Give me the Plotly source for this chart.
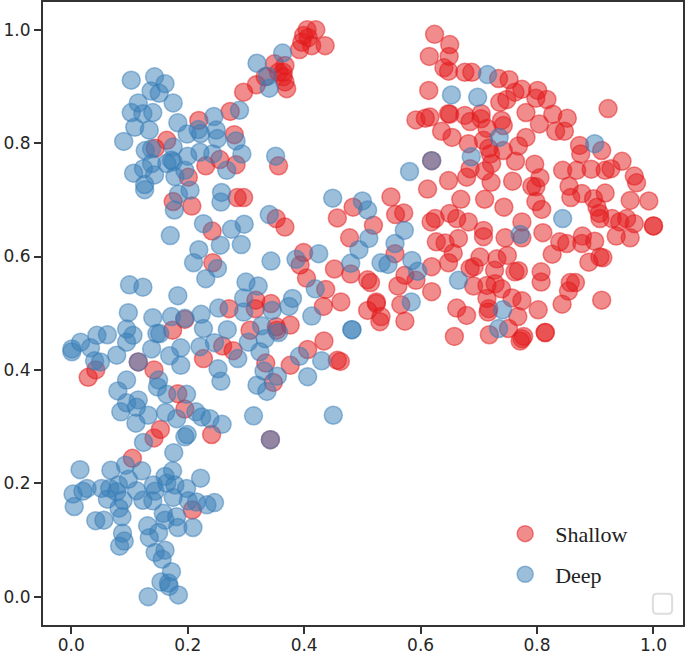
import plotly.graph_objects as go

# values, axes run 0..1 on both sides
shallow_x = [.405, .420, .399, .407, .413, .392, .436, .396, .349, .367, .356, .364, .364, .367, .370, .318, .333, .296, .273,
             .219, .280, .164, .144, .231, .255, .283, .201, .175, .207, .285, .296, .356, .352, .367, .242, .243,
             .457, .484, .478, .452, .399, .393, .404, .437, .463, .433, .271, .317, .343, .316, .480,
             .549, .557, .571, .519, .556, .625, .650, .682, .627, .642, .665, .656, .648, .619,
             .509, .514, .524, .524, .509, .532, .561, .573, .592, .566, .573, .619, .662, .679, .658,
             .376, .434, .406, .376, .457, .462, .352, .334, .347,
             .624, .650, .615, .649, .640, .648, .676, .688, .734, .752, .774, .762, .801, .798, .817, .748, .736, .614,
             .592, .608, .616, .648, .650, .676, .704, .704, .739, .742, .685, .714, .781, .827, .852, .804, .832, .847, .922,
             .636, .654, .682, .781, .768, .708, .742, .720, .717, .722, .763, .796, .685, .679, .710, .721, .648, .758, .805, .791, .798, .798, .808, .612, .710, .743, .669,
             .873, .875, .911, .844, .868, .893, .917, .927, .946, .967, .971, .855, .858, .877, .897, .917, .960, .992, .903, .907, .908, .929, .942, .954, .967, 1.0, 1.0, .936, .960,
             .618, .662, .708, .708, .745, .774, .774, .810, .839, .851, .877, .878, .899, .826, .889, .908, .913,
             .702, .731, .749, .692, .685, .727, .762, .768, .807, .807, .857, .866, .854, .843, .911,
             .691, .714, .728, .739, .714, .757, .774, .717, .716, .802,
             .767, .814, .814, .718, .751, .771, .777, .774, .530,
             .174, .307, .353, .227, .260, .278, .029, .042, .115, .142, .183, .195, .105, .241, .142, .153, .208, .342, .619, .195]
shallow_y = [1.0, 1.0, .990, .986, .972, .965, .972, .978, .940, .937, .925, .925, .917, .908, .896, .903, .917, .890, .856,
             .840, .815, .805, .791, .760, .771, .762, .740, .697, .689, .704, .704, .760, .667, .652, .645, .589,
             .668, .687, .633, .578, .607, .585, .562, .542, .520, .512, .508, .523, .517, .508, .569,
             .705, .674, .677, .655, .605, .667, .676, .661, .626, .624, .632, .606, .589, .582,
             .559, .554, .520, .517, .505, .494, .548, .567, .558, .515, .486, .538, .509, .496, .459,
             .479, .451, .436, .408, .417, .415, .476, .412, .378,
             .992, .974, .953, .953, .933, .927, .925, .925, .914, .912, .895, .890, .893, .879, .877, .877, .872, .893,
             .841, .844, .846, .852, .851, .849, .852, .843, .840, .831, .838, .826, .854, .851, .844, .834, .821, .821, .861,
             .821, .810, .799, .810, .795, .805, .787, .781, .791, .764, .768, .763, .755, .740, .751, .731, .734, .733, .739, .724, .723, .697, .683, .719, .701, .687, .701,
             .796, .781, .787, .752, .752, .754, .752, .755, .768, .742, .730, .724, .704, .711, .702, .712, .699, .698, .687, .676, .667, .667, .661, .667, .658, .654, .654, .636, .633,
             .661, .667, .646, .635, .633, .661, .633, .642, .626, .623, .623, .636, .627, .604, .590, .599, .598,
             .599, .596, .602, .582, .579, .576, .573, .575, .573, .555, .554, .554, .539, .516, .523,
             .548, .549, .552, .543, .526, .527, .522, .508, .502, .506,
             .494, .466, .466, .462, .473, .451, .459, .455, .485,
             .470, .470, .470, .420, .442, .434, .387, .400, .414, .400, .358, .331, .244, .286, .280, .295, .153, .277, .769, .489]

deep_x = [.103, .143, .161, .137, .151, .175, .115, .103, .123, .140, .109, .134, .090, .183, .199, .218, .245, .222, .249, .251, .289, .283, .293,
          .127, .138, .175, .221, .243, .200, .172, .175, .164, .138, .124, .107, .143, .195, .178, .267, .126, .126, .204, .184, .177, .258, .257,
          .319, .363, .340, .337, .351,
          .449, .170, .227, .275, .297, .256, .292, .219, .210, .251, .231, .340, .343, .386, .425, .100, .123, .183, .098, .140, .172, .195, .223, .253,
          .300, .321, .296, .296, .380, .374, .345, .419, .413,
          .500, .509, .556, .511, .494, .480, .532, .544, .572, .585, .595, .581, .665, .356, .482, .482, .333, .324, .392, .430, .406, .331, .354, .319, .336, .584, .327,
          .619, .715, .653, .698, .735, .687, .899, .844, .771, .741, .734,
          .001, .001, .016, .033, .044, .062, .078, .040, .050, .095, .106, .095, .152, .147, .138, .227, .268, .169, .188, .188, .221, .246, .286, .304, .252, .257, .115, .342,
          .095, .080, .150, .148, .164, .198, .095, .115, .112, .085, .132, .111, .162, .181, .214, .224, .238, .259, .199, .195, .124, .176, .313, .450,
          .015, .068, .093, .121, .174, .161, .222, .098, .003, .020, .027, .005, .052, .066, .081, .078, .112, .062, .089, .141, .144, .123, .140, .164, .178, .198, .175, .201, .215, .233, .246,
          .082, .087, .042, .056, .158, .161, .181, .183, .209, .131, .150, .134, .088, .091, .083, .161, .144, .156, .172, .154, .167, .168, .184, .132]
deep_y = [.911, .917, .905, .892, .888, .871, .871, .854, .852, .854, .828, .823, .803, .836, .816, .824, .847, .817, .823, .808, .858, .804, .781,
          .787, .790, .793, .784, .781, .777, .770, .767, .764, .764, .755, .747, .744, .752, .741, .752, .727, .718, .717, .710, .682, .713, .696,
          .941, .959, .897, .918, .777,
          .703, .637, .658, .648, .657, .620, .621, .612, .589, .579, .561, .674, .592, .595, .605, .550, .546, .531, .501, .492, .494, .491, .498, .509,
          .555, .548, .527, .502, .526, .512, .505, .543, .495,
          .698, .682, .623, .632, .612, .588, .589, .586, .646, .593, .574, .750, .558, .466, .471, .471, .455, .432, .424, .416, .388, .398, .389, .373, .362, .520, .478,
          .769, .921, .885, .881, .810, .776, .799, .667, .639, .506, .473,
          .432, .437, .449, .439, .461, .462, .426, .416, .414, .472, .461, .449, .464, .464, .437, .473, .471, .425, .439, .408, .441, .448, .420, .449, .402, .380, .414, .277,
          .382, .363, .382, .370, .357, .357, .342, .347, .334, .326, .320, .306, .325, .314, .326, .317, .314, .304, .286, .282, .272, .254, .319, .320,
          .224, .223, .232, .222, .222, .212, .209, .207, .181, .186, .191, .159, .191, .191, .197, .185, .187, .172, .170, .197, .186, .170, .169, .200, .197, .191, .175, .169, .167, .162, .166,
          .156, .141, .134, .135, .147, .135, .141, .122, .122, .125, .113, .104, .112, .098, .089, .082, .078, .066, .044, .026, .024, .018, .003, 0.0]

tick_vals = [0.0, 0.2, 0.4, 0.6, 0.8, 1.0]
tick_text = ["0.0", "0.2", "0.4", "0.6", "0.8", "1.0"]

red = "rgba(228,26,28,0.5)"
blue = "rgba(55,126,184,0.5)"


def dots(x, y, name, color):
    return go.Scatter(x=x, y=y, mode="markers", name=name, legendgroup=name,
                      marker=dict(size=18, color=color, line=dict(width=1.5, color=color)))


fig = go.Figure()
fig.add_trace(dots(shallow_x, shallow_y, "Shallow", red))
fig.add_trace(dots(deep_x, deep_y, "Deep", blue))

axis_style = dict(tickmode="array", tickvals=tick_vals, ticktext=tick_text, ticks="outside", ticklen=7, tickwidth=2,
                  tickcolor="#333333", showgrid=False, zeroline=False, showline=True, linewidth=2, linecolor="#333333",
                  mirror=True, automargin=False, tickfont=dict(family="DejaVu Sans", size=17, color="#262626"))

fig.update_layout(
    width=685, height=655,
    margin=dict(l=43, r=2, t=2, b=30),
    paper_bgcolor="white", plot_bgcolor="white",
    xaxis=dict(range=[-0.0486, 1.0507], ticklabelstandoff=-3, **axis_style),
    yaxis=dict(range=[-0.05, 1.049], **axis_style),
    legend=dict(x=0.7065, y=0.18, xanchor="left", yanchor="top", bgcolor="rgba(0,0,0,0)", tracegroupgap=9, itemwidth=50,
                font=dict(family="Liberation Serif", size=22, color="#222222")),
    # empty legend frame in the bottom right corner
    shapes=[dict(type="path", xref="paper", yref="paper", line=dict(color="#dddddd", width=2),
                 path="M .959 .018 L .977 .018 Q .983 .018 .983 .024 L .983 .044 Q .983 .050 .977 .050 "
                      "L .959 .050 Q .953 .050 .953 .044 L .953 .024 Q .953 .018 .959 .018 Z")],
)

fig.write_html("out.html", config=dict(displayModeBar=False), post_script="document.body.style.margin='0'")
